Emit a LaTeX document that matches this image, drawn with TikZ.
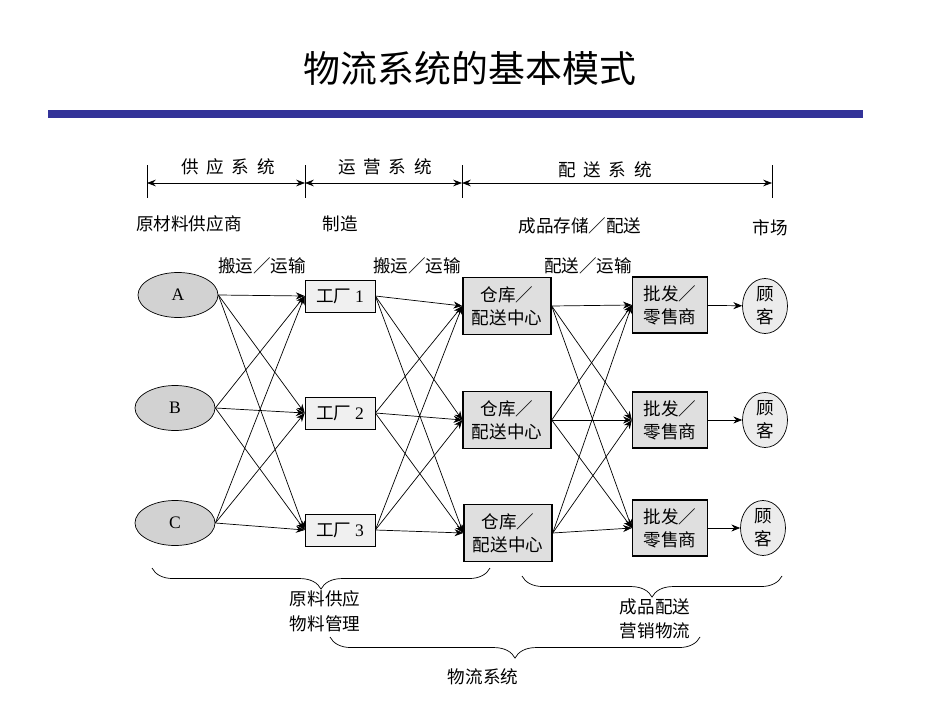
\documentclass[tikz,border=0pt]{standalone}
\usepackage{fontspec}
\setmainfont{Liberation Serif}
\newfontfamily\cjk{Noto Sans CJK SC}
\usetikzlibrary{arrows.meta,decorations.pathreplacing,shapes.geometric}
\definecolor{barblue}{RGB}{51,51,153}
\begin{document}
\begin{tikzpicture}[x=0.02cm,y=-0.02cm,
  every node/.style={font=\cjk\fontsize{10}{12}\selectfont},
  arr/.style={-{Stealth[length=5pt,width=4pt]},thin},
  src/.style={ellipse,draw,fill=gray!35,minimum width=80*0.02cm,minimum height=45*0.02cm,inner sep=0pt},
  fac/.style={draw,fill=gray!12,minimum width=70*0.02cm,minimum height=32*0.02cm,inner sep=0pt},
  wh/.style={draw,thick,fill=gray!25,minimum width=88*0.02cm,minimum height=57*0.02cm,inner sep=0pt,align=center,font=\cjk\fontsize{10}{13}\selectfont},
  rt/.style={draw,thick,fill=gray!25,minimum width=75*0.02cm,minimum height=56*0.02cm,inner sep=0pt,align=center,font=\cjk\fontsize{10}{13}\selectfont},
  cu/.style={ellipse,draw,fill=gray!15,minimum width=45*0.02cm,minimum height=55*0.02cm,inner sep=0pt,align=center,font=\cjk\fontsize{10}{13}\selectfont},
  brc/.style={decorate,decoration={brace,mirror,amplitude=12pt}}]
\useasboundingbox (0,0) rectangle (950,713);
\node[font=\cjk\fontsize{21}{24}\selectfont] (title) at (470,68) {物流系统的基本模式};
\fill[barblue] (48,110) rectangle (863,118);
% top scale
\coordinate (t1) at (147,183); \coordinate (t2) at (305,183);
\coordinate (t3) at (462,183); \coordinate (t4) at (772,183);
\foreach \x in {147,305,462,772} \draw (\x,165) -- (\x,198);
\draw[{Stealth[length=5pt]}-{Stealth[length=5pt]}] (t1) -- (t2);
\draw[{Stealth[length=5pt]}-{Stealth[length=5pt]}] (t2) -- (t3);
\draw[{Stealth[length=5pt]}-{Stealth[length=5pt]}] (t3) -- (t4);
\node (s1) at (228,167) {供\ \ 应\ \ 系\ \ 统};
\node (s2) at (385,167) {运\ \ 营\ \ 系\ \ 统};
\node (s3) at (605,170) {配\ \ 送\ \ 系\ \ 统};
\node[anchor=west] (l1) at (130,224) {原材料供应商};
\node (l2) at (340,224) {制造};
\node (l3) at (580,226) {成品存储／配送};
\node (l4) at (770,228) {市场};
\node (m1) at (262,266) {搬运／运输};
\node (m2) at (417,266) {搬运／运输};
\node (m3) at (588,266) {配送／运输};
% nodes
\node[src] (A) at (178,295) {\rmfamily A};
\node[src] (B) at (175,408) {\rmfamily B};
\node[src] (C) at (175,523) {\rmfamily C};
\node[fac] (F1) at (340,296) {工厂 \rmfamily 1};
\node[fac] (F2) at (340,413) {工厂 \rmfamily 2};
\node[fac] (F3) at (340,530) {工厂 \rmfamily 3};
\node[wh] (W1) at (507,306) {仓库／\\配送中心};
\node[wh] (W2) at (507,420) {仓库／\\配送中心};
\node[wh] (W3) at (508,533) {仓库／\\配送中心};
\node[rt] (R1) at (670,305) {批发／\\零售商};
\node[rt] (R2) at (670,420) {批发／\\零售商};
\node[rt] (R3) at (670,528) {批发／\\零售商};
\node[cu] (K1) at (765,306) {顾\\客};
\node[cu] (K2) at (765,420) {顾\\客};
\node[cu] (K3) at (763,528) {顾\\客};
\foreach \s in {A,B,C} \foreach \t in {F1,F2,F3} \draw[arr] (\s.east) -- (\t.west);
\foreach \s in {F1,F2,F3} \foreach \t in {W1,W2,W3} \draw[arr] (\s.east) -- (\t.west);
\foreach \s in {W1,W2,W3} \foreach \t in {R1,R2,R3} \draw[arr] (\s.east) -- (\t.west);
\draw[arr] (R1) -- (K1); \draw[arr] (R2) -- (K2); \draw[arr] (R3) -- (K3);
% braces
\coordinate (b1a) at (152,568); \coordinate (b1b) at (490,568);
\coordinate (b2a) at (522,576); \coordinate (b2b) at (782,576);
\coordinate (b3a) at (330,637); \coordinate (b3b) at (700,637);
\draw[brc] (b1a) -- (b1b);
\draw[brc] (b2a) -- (b2b);
\draw[brc] (b3a) -- (b3b);
\node[align=center,font=\cjk\fontsize{10}{14}\selectfont] (n1) at (325,611) {原料供应\\物料管理};
\node[align=center,font=\cjk\fontsize{10}{14}\selectfont] (n2) at (655,619) {成品配送\\营销物流};
\node (n3) at (483,677) {物流系统};
\end{tikzpicture}
\end{document}
